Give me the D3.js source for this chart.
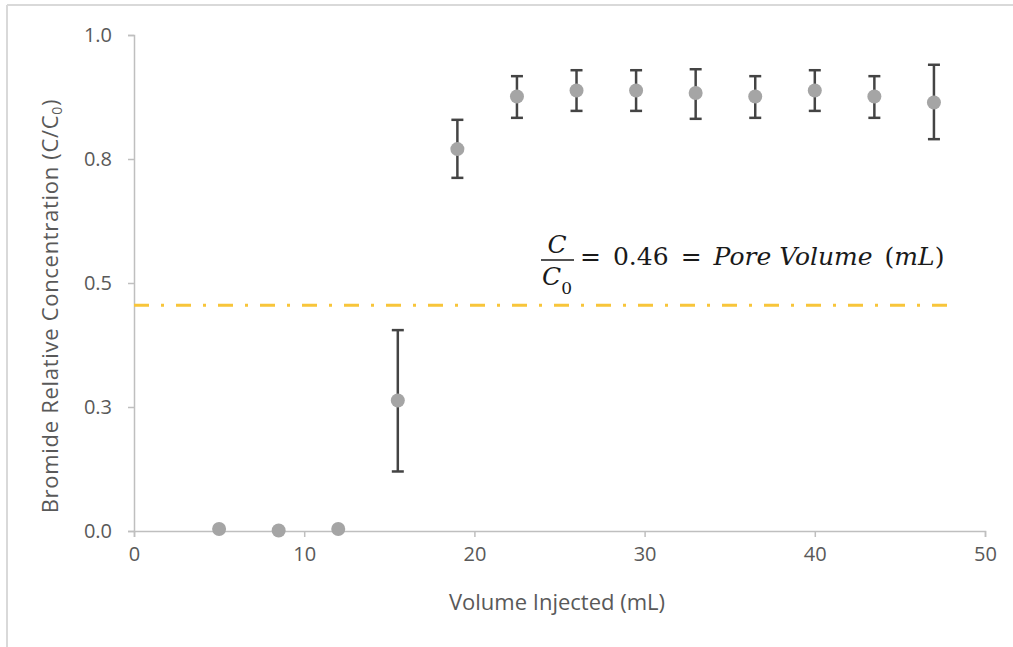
<!DOCTYPE html>
<html>
<head>
<meta charset="utf-8">
<script src="https://cdn.jsdelivr.net/npm/d3@7"></script>
<style>
  html, body { margin: 0; padding: 0; background: #fff; }
  svg { display: block; }
  .tick-label { font-family: "Open Sans", sans-serif; font-size: 20px; fill: #595959; }
  .axis-title { font-family: "Open Sans", sans-serif; font-size: 22px; fill: #595959; }
  .eq { font-family: "DejaVu Serif", "Liberation Serif", serif; font-size: 25px; fill: #1a1a1a; }
</style>
</head>
<body>
<svg id="chart" width="1013" height="647"></svg>
<script>
// Bromide breakthrough data.
const volumeInjected = [5, 8.5, 12, 15.5, 19, 22.5, 26, 29.5, 33, 36.5, 40, 43.5, 47];
const relConc      = [0.004, 0.001, 0.004, 0.263, 0.770, 0.876, 0.888, 0.888, 0.883, 0.876, 0.888, 0.876, 0.864];
const errUpper     = [null, null, null, 0.405, 0.829, 0.917, 0.929, 0.929, 0.931, 0.917, 0.929, 0.917, 0.940];
const errLower     = [null, null, null, 0.120, 0.712, 0.833, 0.847, 0.847, 0.831, 0.833, 0.847, 0.833, 0.790];

const xTicks = [0, 10, 20, 30, 40, 50];
const yTicks = [0, 0.25, 0.5, 0.75, 1.0];

// Pore volume reference line.
const poreLineY = 0.455;
const poreLineX = [0, 48.2];

const svg = d3.select('#chart');

// Light frame on the top and left edges, like the pasted Excel chart.
svg.append('line').attr('x1', 7).attr('x2', 1013).attr('y1', 5).attr('y2', 5)
  .attr('stroke', '#d9d9d9').attr('stroke-width', 2);
svg.append('line').attr('x1', 7).attr('x2', 7).attr('y1', 5).attr('y2', 647)
  .attr('stroke', '#d9d9d9').attr('stroke-width', 2);

const x = d3.scaleLinear().domain([0, 50]).range([134, 985]);
const y = d3.scaleLinear().domain([0, 1]).range([531, 35]);

// Axes
const xAxis = svg.append('g')
  .attr('transform', `translate(0,${y(0)})`)
  .call(d3.axisBottom(x).tickValues(xTicks).tickSize(6).tickPadding(10).tickFormat(d3.format('d')));

const yAxis = svg.append('g')
  .attr('transform', `translate(${x(0)},0)`)
  .call(d3.axisLeft(y).tickValues(yTicks).tickSize(6).tickPadding(16).tickFormat(d3.format('.1f')));

[xAxis, yAxis].forEach(g => {
  g.select('.domain').attr('stroke', '#bfbfbf').attr('stroke-width', 1.5);
  g.selectAll('.tick line').attr('stroke', '#bfbfbf').attr('stroke-width', 1.5);
  g.selectAll('.tick text').attr('class', 'tick-label').attr('fill', null).attr('font-size', null).attr('font-family', null);
});

// Axis titles
svg.append('text')
  .attr('class', 'axis-title')
  .attr('x', 557)
  .attr('y', 610)
  .attr('text-anchor', 'middle')
  .text('Volume Injected (mL)');

const yTitle = svg.append('text')
  .attr('class', 'axis-title')
  .attr('transform', 'translate(58,306) rotate(-90)')
  .attr('text-anchor', 'middle')
  .attr('letter-spacing', 0.7);
yTitle.append('tspan').text('Bromide Relative Concentration (C/C');
yTitle.append('tspan').attr('font-size', 14).attr('dy', 4).text('0');
yTitle.append('tspan').attr('dy', -4).text(')');

// Dash-dot pore volume line
svg.append('line')
  .attr('x1', x(poreLineX[0]))
  .attr('x2', x(poreLineX[1]))
  .attr('y1', y(poreLineY))
  .attr('y2', y(poreLineY))
  .attr('stroke', '#f8c53a')
  .attr('stroke-width', 3)
  .attr('stroke-dasharray', '15,12,3,12');

// Equation label: C/C0 = 0.46 = Pore Volume (mL)
const eq = svg.append('g');
eq.append('text').attr('class', 'eq').attr('x', 557).attr('y', 253)
  .attr('text-anchor', 'middle').attr('font-style', 'italic').text('C');
eq.append('line').attr('x1', 541).attr('x2', 574).attr('y1', 260).attr('y2', 260)
  .attr('stroke', '#1a1a1a').attr('stroke-width', 1.3);
const den = eq.append('text').attr('class', 'eq').attr('x', 542).attr('y', 285);
den.append('tspan').attr('font-style', 'italic').text('C');
den.append('tspan').attr('font-size', 17).attr('dy', 9).text('0');

// Slightly wider gaps around "=" to mimic equation spacing
const rhs = eq.append('text').attr('class', 'eq').attr('x', 580).attr('y', 265);
rhs.append('tspan').text('=');
rhs.append('tspan').attr('dx', 12).text('0.46');
rhs.append('tspan').attr('dx', 12).text('=');
rhs.append('tspan').attr('dx', 12).attr('font-style', 'italic').text('Pore Volume');
rhs.append('tspan').attr('dx', 12).text('(');
rhs.append('tspan').attr('font-style', 'italic').text('mL');
rhs.append('tspan').text(')');

// Error bars
const points = volumeInjected.map((v, i) => ({
  v: v, c: relConc[i], hi: errUpper[i], lo: errLower[i]
}));
const withErr = points.filter(d => d.hi != null);

const eb = svg.append('g').attr('stroke', '#444444').attr('stroke-width', 2.5);
eb.selectAll('line.stem').data(withErr).join('line')
  .attr('class', 'stem')
  .attr('x1', d => x(d.v)).attr('x2', d => x(d.v))
  .attr('y1', d => y(d.hi)).attr('y2', d => y(d.lo));
eb.selectAll('line.cap-hi').data(withErr).join('line')
  .attr('class', 'cap-hi')
  .attr('x1', d => x(d.v) - 6).attr('x2', d => x(d.v) + 6)
  .attr('y1', d => y(d.hi)).attr('y2', d => y(d.hi));
eb.selectAll('line.cap-lo').data(withErr).join('line')
  .attr('class', 'cap-lo')
  .attr('x1', d => x(d.v) - 6).attr('x2', d => x(d.v) + 6)
  .attr('y1', d => y(d.lo)).attr('y2', d => y(d.lo));

// Points
svg.append('g').selectAll('circle').data(points).join('circle')
  .attr('cx', d => x(d.v))
  .attr('cy', d => y(d.c))
  .attr('r', 7)
  .attr('fill', '#a5a5a5');
</script>
</body>
</html>
